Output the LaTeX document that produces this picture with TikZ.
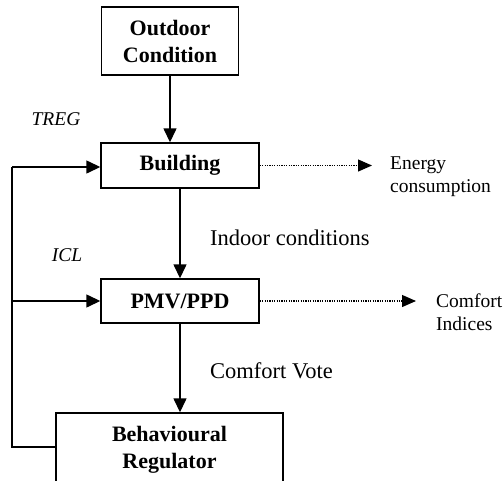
\documentclass[tikz,border=0pt]{standalone}
\usepackage{fontspec}
\setmainfont{Liberation Serif}
\usetikzlibrary{arrows.meta}
\tikzset{
  blk/.style={draw, line width=1.4pt, align=center, inner sep=0pt,
    font=\fontsize{22}{27}\selectfont\bfseries},
  flow/.style={line width=1.4pt, -{Triangle[length=14pt,width=13pt]}},
  dots/.style={line width=1.2pt, dash pattern=on 1.2pt off 1.2pt,
    -{Triangle[length=14pt,width=12pt]}},
  lbl/.style={inner sep=0pt, font=\fontsize{22.5}{27}\selectfont, anchor=west},
  side/.style={inner sep=0pt, font=\fontsize{19.5}{23}\selectfont, anchor=west, align=left},
  ital/.style={inner sep=0pt, font=\fontsize{19.5}{23}\selectfont\itshape},
}
\begin{document}
\begin{tikzpicture}[x=1pt,y=-1pt]
\useasboundingbox (0,0) rectangle (504,480);
\clip (0,0) rectangle (504,480);
\node[blk, minimum width=137pt, minimum height=68pt] (out) at (170,41) {Outdoor\\Condition};
\node[blk, minimum width=158pt, minimum height=45pt] (bld) at (180,165.5) {Building};
\node[blk, minimum width=158pt, minimum height=44pt] (pmv) at (180,301) {PMV/PPD};
\node[blk, minimum width=227pt, minimum height=74pt] (beh) at (169.5,450) {Behavioural\\Regulator};

\node[ital] (treg) at (56,119) {TREG};
\node[ital] (icl) at (67,255) {ICL};
\node[lbl] (indoor) at (210,238) {Indoor conditions};
\node[lbl] (vote) at (210,371) {Comfort Vote};
\node[side] (energy) at (390,177) {Energy\\consumption};
\node[side] (cidx) at (436,312) {Comfort\\Indices};

\coordinate (eEnd) at (372,165.5);
\coordinate (cEnd) at (416,301);
\coordinate (fbB) at (12,447);
\coordinate (fbT) at (12,167);
\coordinate (fbM) at (12,301);

\draw[flow] (out.south) -- (out.south |- bld.north);
\draw[flow] (bld.south) -- (bld.south |- pmv.north);
\draw[flow] (pmv.south) -- (pmv.south |- beh.north);
\draw[dots] (bld.east) -- (eEnd);
\draw[dots] (pmv.east) -- (cEnd);
\draw[line width=1.4pt] (beh.west |- fbB) -- (fbB) -- (fbT);
\draw[flow] (fbT) -- (fbT -| bld.west);
\draw[flow] (fbM) -- (fbM -| pmv.west);
\end{tikzpicture}
\end{document}
